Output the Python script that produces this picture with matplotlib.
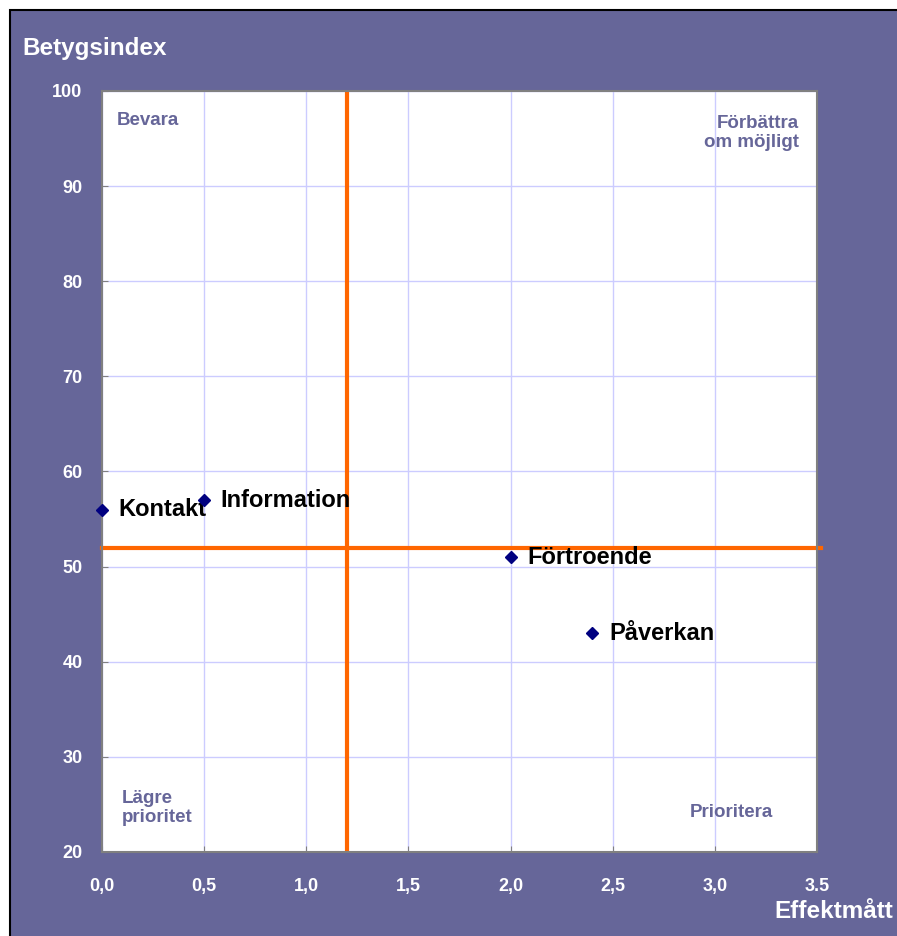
import matplotlib
matplotlib.use("Agg")
import matplotlib.pyplot as plt
from matplotlib.patches import Rectangle
from matplotlib.ticker import FixedLocator, FixedFormatter

# data
names = ["Kontakt", "Information", "Förtroende", "Påverkan"]
effekt = [0.0, 0.5, 2.0, 2.4]
betyg = [56, 57, 51, 43]

x_ticks = [0.0, 0.5, 1.0, 1.5, 2.0, 2.5, 3.0, 3.5]
x_labels = ["0,0", "0,5", "1,0", "1,5", "2,0", "2,5", "3,0", "3.5"]
y_ticks = [20, 30, 40, 50, 60, 70, 80, 90, 100]

x_split = 1.2
y_split = 52

purple = "#666699"
orange = "#FF6600"

plt.rcParams['font.family'] = ['Liberation Sans', 'DejaVu Sans']
plt.rcParams['font.weight'] = 'bold'

fig = plt.figure(figsize=(8.97, 9.36), dpi=100)
fig.patch.set_facecolor("white")

# purple background frame with black edge
bg = Rectangle((10/897, -0.01), 1.0, 1 - 10/936 + 0.01, transform=fig.transFigure,
               facecolor=purple, edgecolor="black", lw=1.5, zorder=-5)
fig.patches.append(bg)

ax = fig.add_axes([102/897, 1 - 852/936, 715/897, 761/936])
ax.set_zorder(2)
ax.set_facecolor("white")
ax.set_xlim(0, 3.5)
ax.set_ylim(20, 100)

ax.xaxis.set_major_locator(FixedLocator(x_ticks))
ax.xaxis.set_major_formatter(FixedFormatter(x_labels))
ax.set_yticks(y_ticks)
ax.grid(True, color="#CCCCFF", lw=1)
ax.set_axisbelow(True)
ax.tick_params(axis="x", direction="in", length=4, color="#808080", pad=19,
               labelsize=13, labelcolor="white")
ax.tick_params(axis="y", direction="in", length=4, color="#808080", pad=14,
               labelsize=13, labelcolor="white")
for lab in ax.get_xticklabels() + ax.get_yticklabels():
    lab.set_fontweight("bold")
for s in ax.spines.values():
    s.set_color("#808080")
    s.set_linewidth(1.5)

# quadrant split lines
ax.axvline(x_split, color=orange, lw=3, zorder=2)
ax.plot([0, 3.52], [y_split, y_split], color=orange, lw=3, zorder=2, clip_on=False)

ax.plot(effekt, betyg, linestyle="none", marker="D", markersize=6.5,
        color="#000080", zorder=5, clip_on=False)
for n, x, y in zip(names, effekt, betyg):
    ax.annotate(n, (x, y), xytext=(12, 0), textcoords="offset points",
                va="center", ha="left", fontsize=17, fontweight="bold",
                color="black", zorder=4)

# quadrant labels
ax.text(0.07, 96.85, "Bevara", color=purple, fontsize=13.5, fontweight="bold",
        ha="left", va="center")
ax.text(3.41, 95.6, "Förbättra\nom möjligt", color=purple, fontsize=13.5,
        fontweight="bold", ha="right", va="center", multialignment="right",
        linespacing=1.15)
ax.text(0.098, 24.6, "Lägre\nprioritet", color=purple, fontsize=13.5,
        fontweight="bold", ha="left", va="center", linespacing=1.15)
ax.text(3.08, 24.1, "Prioritera", color=purple, fontsize=13.5, fontweight="bold",
        ha="center", va="center")

fig.text(22/897, 1 - 49/936, "Betygsindex", color="white", fontsize=17.5,
         fontweight="bold", ha="left", va="center")
fig.text(893/897, 1 - 911/936, "Effektmått", color="white", fontsize=17.5,
         fontweight="bold", ha="right", va="center")

fig.savefig("out.png", dpi=100, facecolor=fig.get_facecolor())
